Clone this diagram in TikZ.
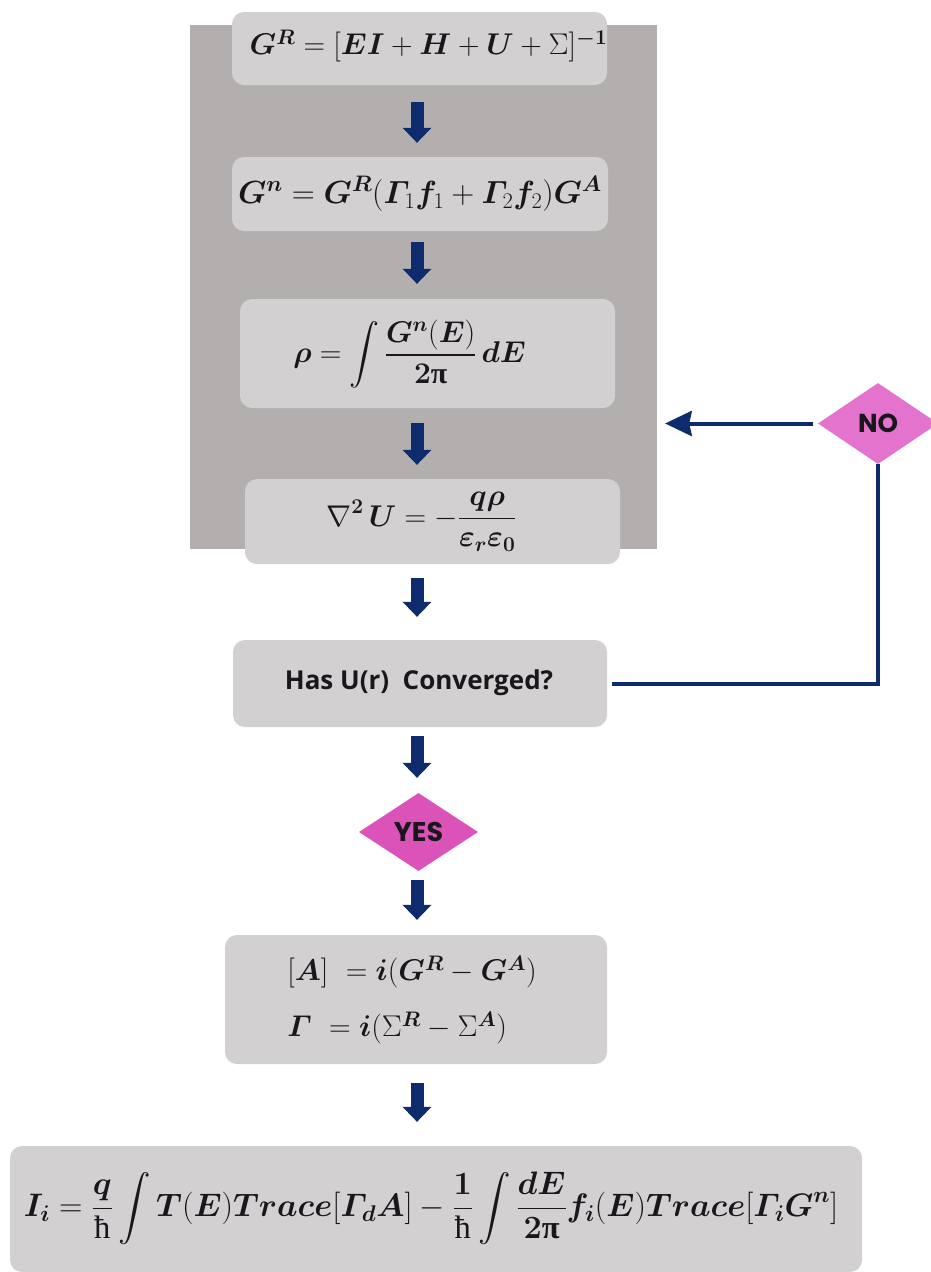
\RequirePackage{fix-cm}
\documentclass[tikz,border=0pt]{standalone}
\usepackage{amsmath,amssymb}
\usepackage{bm}
\usepackage{fontspec}
\newfontfamily\osans{Open Sans}
\newfontfamily\pop{Poppins}
\newfontfamily\lserif{Liberation Serif}
\usetikzlibrary{arrows.meta,shapes.geometric}
\definecolor{bggray}{RGB}{179,175,174}
\definecolor{boxgray}{RGB}{210,208,209}
\definecolor{navy}{RGB}{14,43,110}
\definecolor{nopink}{RGB}{227,115,204}
\definecolor{yespink}{RGB}{219,82,184}
\definecolor{txt}{RGB}{25,22,28}
\newcommand\ppi{\text{\lserif\bfseries π}}
\newcommand\hb{\text{\lserif ħ}}
\newcommand\fs{\fontsize{30}{36}\selectfont}
\begin{document}
\begin{tikzpicture}[x=1pt,y=-1pt,
  box/.style={fill=boxgray, rounded corners=12pt, inner sep=0pt},
  ftext/.style={inner sep=0pt, font=\fs, text=txt},
  blk/.style={draw=navy, line width=13pt, -{Triangle[width=29pt,length=15pt,line width=0pt]}},
  loopline/.style={draw=navy, line width=4pt},
  dia/.style={diamond, inner sep=0pt, text=txt}
]
\useasboundingbox (0,0) rectangle (930,1272);
\fill[white] (0,0) rectangle (930,1272);
% background panel
\node[fill=bggray, inner sep=0pt, minimum width=467pt, minimum height=524pt] (bg) at (423.5,287) {};
% boxes
\node[box, minimum width=375pt, minimum height=73pt] (b1) at (419.5,48.5) {};
\node[box, minimum width=376pt, minimum height=74pt] (b2) at (420,194) {};
\node[box, minimum width=375pt, minimum height=109pt] (b3) at (427.5,353.5) {};
\node[box, minimum width=375pt, minimum height=85pt] (b4) at (432.5,521.5) {};
\node[box, minimum width=374pt, minimum height=87pt] (b5) at (420,683.5) {};
\node[dia, fill=yespink, minimum width=119pt, minimum height=78pt] (yes) at (418.5,832) {\pop\bfseries\fontsize{27}{30}\selectfont YES};
\node[box, minimum width=382pt, minimum height=129pt] (b6) at (416,999.5) {};
\node[box, minimum width=852pt, minimum height=126pt] (b7) at (436,1209) {};
\node[dia, fill=nopink, minimum width=120pt, minimum height=81pt] (no) at (878,423.5) {\pop\bfseries\fontsize{26}{30}\selectfont NO};
% texts
\node[ftext] (t1) at (428.5,46) {$\bm{G}^{\bm{R}} = [\bm{EI} + \bm{H} + \bm{U} + \Sigma]^{\bm{-1}}$};
\node[ftext, font=\fontsize{32}{38}\selectfont] (t2) at (420,194) {$\bm{G}^{\bm{n}} = \bm{G}^{\bm{R}}(\bm{\varGamma}_1\bm{f}_1 + \bm{\varGamma}_2\bm{f}_2)\bm{G}^{\bm{A}}$};
\node[ftext] (t3) at (409.5,354) {$\displaystyle \bm{\rho} = \int \frac{\bm{G}^{\bm{n}}(\bm{E})}{\bm{2}\ppi}\,\bm{dE}$};
\node[ftext] (t4) at (421.5,522) {$\displaystyle \nabla^{\bm{2}}\,\bm{U} = -\frac{\bm{q\rho}}{\bm{\varepsilon}_{\bm{r}}\bm{\varepsilon}_{\bm{0}}}$};
\node[ftext, font=\osans\bfseries\fontsize{26}{30}\selectfont] (t5) at (419,683) {Has U(r)\ \ Converged?};
\node[ftext, align=left] (t6) at (412,1000) {$[\bm{A}]\ = \bm{i}(\bm{G}^{\bm{R}} - \bm{G}^{\bm{A}})$\\[20pt]$\bm{\varGamma}\ = \bm{i}(\Sigma^{\bm{R}} - \Sigma^{\bm{A}})$};
\node[ftext, font=\fontsize{32.5}{38}\selectfont] (t7) at (431,1208) {$\displaystyle \bm{I}_{\bm{i}} = \frac{\bm{q}}{\hb}\int \bm{T}(\bm{E})\bm{Trace}[\bm{\varGamma}_{\bm{d}}\bm{A}] - \frac{\bm{1}}{\hb}\int \frac{\bm{dE}}{\bm{2}\ppi}\bm{f}_{\bm{i}}(\bm{E})\bm{Trace}[\bm{\varGamma}_{\bm{i}}\bm{G}^{\bm{n}}]$};
% block arrows
\coordinate (ax) at (417,0);
\draw[blk, shorten <=17pt, shorten >=14pt] (b1.south -| ax) -- (b2.north -| ax);
\draw[blk, shorten <=11pt, shorten >=15pt] (b2.south -| ax) -- (b3.north -| ax);
\draw[blk, shorten <=15pt, shorten >=14pt] (b3.south -| ax) -- (b4.north -| ax);
\draw[blk, shorten <=14pt, shorten >=23pt] (b4.south -| ax) -- (b5.north -| ax);
\draw[blk, shorten <=9pt, shorten >=15pt] (b5.south -| ax) -- (yes.north -| ax);
\draw[blk, shorten <=9pt, shorten >=15pt] (yes.south -| ax) -- (b6.north -| ax);
\draw[blk, shorten <=19pt, shorten >=24pt] (b6.south -| ax) -- (b7.north -| ax);
% feedback loop
\draw[loopline, shorten <=5pt] (b5.east) -| (no.south);
\draw[loopline, shorten <=5pt, shorten >=8pt, -{Stealth[length=27pt,width=26pt,inset=3pt,line width=0pt]}] (no.west) -- (no.west -| bg.east);
\end{tikzpicture}
\end{document}
